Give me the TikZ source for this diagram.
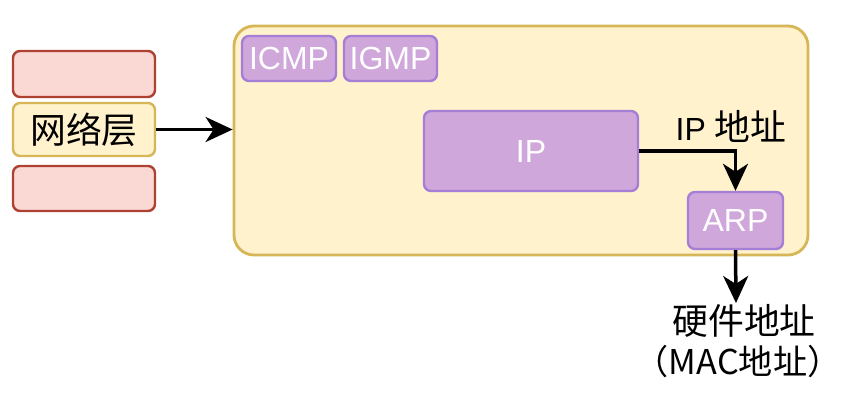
\documentclass[tikz,border=0pt]{standalone}
\usepackage{fontspec}
\setmainfont{Liberation Sans}
\newfontfamily\cjk{Noto Sans CJK SC}[Scale=1.12]
\usetikzlibrary{arrows.meta}
\definecolor{redstroke}{HTML}{AE4132}
\definecolor{redfill}{HTML}{FAD9D5}
\definecolor{yelstroke}{HTML}{D6B656}
\definecolor{yelfill}{HTML}{FFF2CC}
\definecolor{purstroke}{HTML}{A57FD6}
\definecolor{purfill}{HTML}{D0A7DB}
\tikzset{
  box/.style={line width=2.4pt, rounded corners=7pt, inner sep=0pt, align=center,
    font=\fontsize{32}{38}\selectfont},
  redbox/.style={box, draw=redstroke, fill=redfill},
  yelbox/.style={box, draw=yelstroke, fill=yelfill},
  purbox/.style={box, draw=purstroke, fill=purfill, text=white},
  lbl/.style={inner sep=0pt, font=\fontsize{32}{38}\selectfont},
  conn/.style={line width=3.5pt, -{Stealth[length=27pt,width=25pt,inset=8pt]}}
}
\begin{document}
\begin{tikzpicture}[x=1pt,y=-1pt]
\useasboundingbox (0,0) rectangle (841,406);
\fill[white] (0,0) rectangle (841,406);
% left stack
\node[redbox, minimum width=142pt, minimum height=46pt] (top) at (84,74) {};
\node[yelbox, minimum width=142pt, minimum height=53pt] (net) at (84,129.5) {\cjk 网络层};
\node[redbox, minimum width=142pt, minimum height=45pt] (bot) at (84,188.5) {};
% container
\node[yelbox, line width=2.8pt, rounded corners=20pt, minimum width=574pt, minimum height=229pt] (cont) at (521,140.5) {};
% protocol boxes
\node[purbox, minimum width=94pt, minimum height=45pt] (icmp) at (289,58.5) {ICMP};
\node[purbox, minimum width=93pt, minimum height=45pt] (igmp) at (390.5,58.5) {IGMP};
\node[purbox, minimum width=214pt, minimum height=80pt] (ip) at (531,151) {IP};
\node[purbox, minimum width=95pt, minimum height=57pt] (arp) at (735.5,220.5) {ARP};
% labels
\node[lbl] (iplbl) at (731,126) {IP {\cjk 地址}};
\node[lbl] (hw) at (744,321) {\cjk 硬件地址};
\node[lbl, font=\fontsize{30.5}{36}\selectfont] (mac) at (738,362) {\cjk （MAC地址）};
\coordinate (macend) at (736,303);
% connectors
\draw[conn] (net.east) -- (net.east -| cont.west);
\draw[conn] (ip.east) -| (arp.north);
\draw[conn] (arp.south) -- (macend);
\end{tikzpicture}
\end{document}
